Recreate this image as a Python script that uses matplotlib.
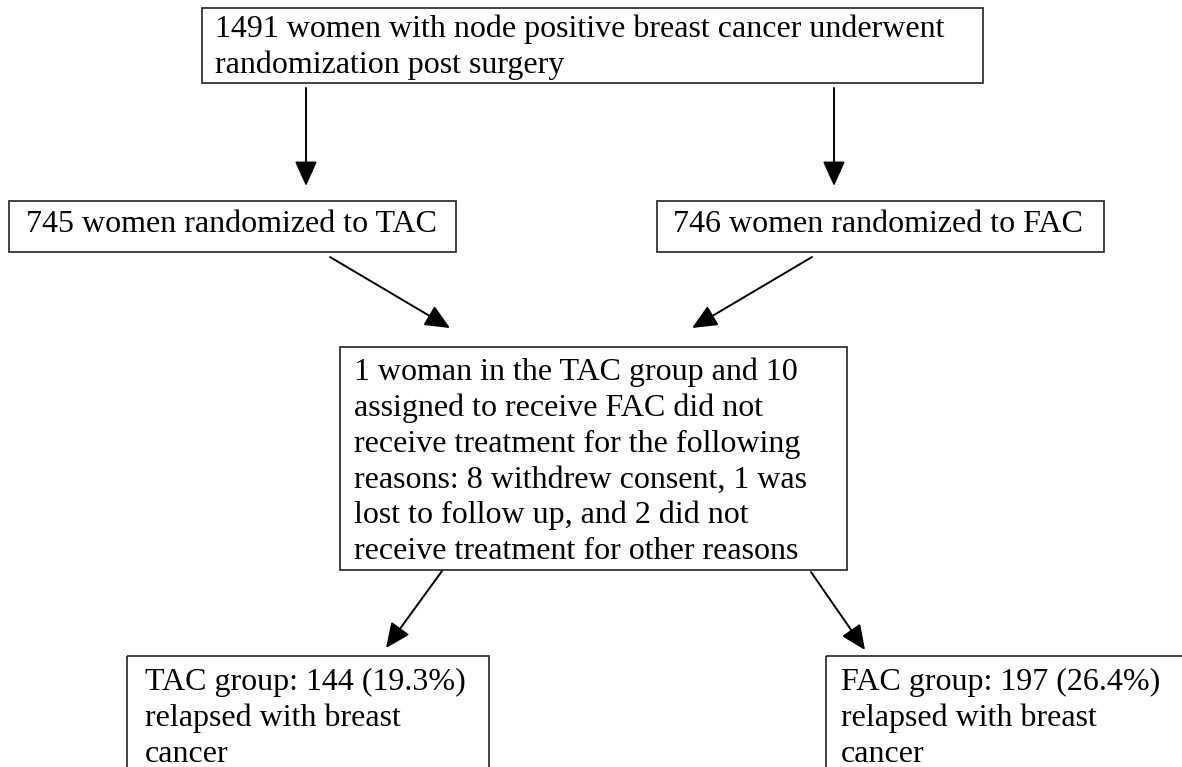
import matplotlib
matplotlib.use("Agg")
from matplotlib import pyplot as plt, patches

plt.rcParams['font.family'] = ['Liberation Serif', 'DejaVu Serif']

# Box texts
top_text = ["1491 women with node positive breast cancer underwent",
            "randomization post surgery"]
tac_text = ["745 women randomized to TAC"]
fac_text = ["746 women randomized to FAC"]
mid_text = ["1 woman in the TAC group and 10",
            "assigned to receive FAC did not",
            "receive treatment for the following",
            "reasons: 8 withdrew consent, 1 was",
            "lost to follow up, and 2 did not",
            "receive treatment for other reasons"]
tac_result = ["TAC group: 144 (19.3%)", "relapsed with breast", "cancer"]
fac_result = ["FAC group: 197 (26.4%)", "relapsed with breast", "cancer"]

W, H = 1182, 767
fig = plt.figure(figsize=(W / 100, H / 100), dpi=100)
ax = fig.add_axes([0, 0, 1, 1])
ax.set_xlim(0, W)
ax.set_ylim(H, 0)
ax.axis('off')

FS = 23


def box(x0, y0, x1, y1, lines, text_x, first_base, spacing=36):
    rect = patches.Rectangle((x0, y0), x1 - x0, y1 - y0, fill=False,
                             edgecolor='#222222', linewidth=1.2)
    ax.add_patch(rect)
    for i, t in enumerate(lines):
        ax.text(text_x, first_base + i * spacing, t, fontsize=FS,
                va='baseline', ha='left', color='black')


def arrow(p0, p1):
    ax.add_patch(patches.FancyArrowPatch(
        p0, p1, arrowstyle='-|>,head_length=0.4,head_width=0.18',
        mutation_scale=38, color='black', linewidth=1.4,
        shrinkA=0, shrinkB=0))


box(202, 8, 983, 83, top_text, 215, 37)
box(9, 201, 456, 252, tac_text, 26, 232)
box(657, 201, 1104, 252, fac_text, 673, 232)
box(340, 347, 847, 570, mid_text, 354, 380, spacing=35.8)
box(127, 656, 489, 800, tac_result, 145, 690)
box(826, 656, 1200, 800, fac_result, 841, 690)

arrow((306, 88), (306, 186))
arrow((834, 88), (834, 186))
arrow((330, 257), (450, 328))
arrow((812, 257), (692, 328))
arrow((442, 571), (386, 648))
arrow((811, 572), (865, 650))

fig.savefig('out.png', dpi=100)
